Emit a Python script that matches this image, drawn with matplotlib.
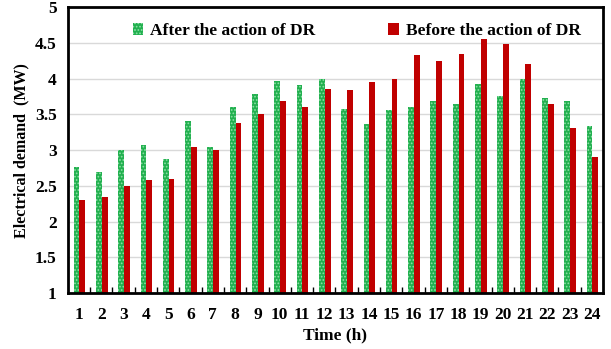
import matplotlib.pyplot as plt
import numpy as np

plt.rcParams['font.family'] = ['Liberation Serif', 'DejaVu Serif']
plt.rcParams['font.weight'] = 'bold'
plt.rcParams['hatch.linewidth'] = 0.8

hours = [str(h) for h in range(1, 25)]
after_dr = [2.76, 2.70, 3.00, 3.07, 2.87, 3.40, 3.04, 3.60, 3.78, 3.97, 3.91, 4.00,
            3.58, 3.37, 3.56, 3.60, 3.69, 3.65, 3.92, 3.75, 3.99, 3.73, 3.69, 3.33]
before_dr = [2.30, 2.34, 2.50, 2.58, 2.60, 3.04, 3.00, 3.38, 3.50, 3.69, 3.60, 3.86,
             3.84, 3.95, 4.00, 4.33, 4.24, 4.34, 4.55, 4.48, 4.20, 3.64, 3.31, 2.91]

fig = plt.figure(figsize=(6.11, 3.49), dpi=100)
ax = fig.add_axes([0.111, 0.160, 0.876, 0.820])

x = np.arange(len(hours))
w = 0.26
ax.bar(x - 0.11, after_dr, width=w, bottom=0, color='#22b04f', edgecolor='#8fe0a8',
       hatch='.....', linewidth=0, label='After the action of DR', zorder=2)
ax.bar(x + 0.15, before_dr, width=w, bottom=0, color='#c00000',
       linewidth=0, label='Before the action of DR', zorder=2)

ax.set_xlim(-0.5, 23.5)
ax.set_ylim(1, 5)
ax.set_yticks(np.arange(1, 5.01, 0.5))
ax.set_yticklabels(['1', '1.5', '2', '2.5', '3', '3.5', '4', '4.5', '5'])
ax.yaxis.grid(True, color='#d9d9d9', linewidth=1, zorder=0)
ax.set_axisbelow(True)

ax.set_xticks(x)
ax.set_xticklabels(hours)
ax.set_xticks(np.arange(0.5, 23, 1), minor=True)
ax.tick_params(axis='x', which='major', length=0, pad=10, labelsize=12.5)
ax.tick_params(axis='x', which='minor', direction='in', length=4, width=1)
ax.tick_params(axis='y', length=0, pad=8, labelsize=12.5)

for s in ax.spines.values():
    s.set_linewidth(2)

ax.set_xlabel('Time (h)', fontsize=12.5, fontweight='bold', labelpad=3)
ax.set_ylabel('Electrical demand  (MW)', fontsize=11.5, fontweight='bold', labelpad=4)

ax.legend(loc='upper center', ncol=2, frameon=False, fontsize=12.5,
          columnspacing=4.2, handlelength=0.6, handleheight=0.7, handletextpad=0.4,
          bbox_to_anchor=(0.54, 1.0))

fig.savefig('out.png', dpi=100)
